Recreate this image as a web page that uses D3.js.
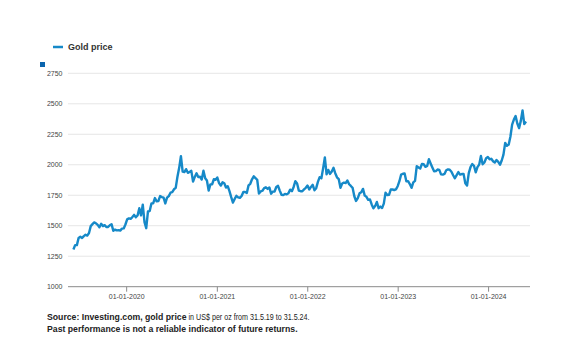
<!DOCTYPE html>
<html>
<head>
<meta charset="utf-8">
<script src="https://cdn.jsdelivr.net/npm/d3@7"></script>
<style>
  html, body { margin: 0; padding: 0; background: #fff; }
  svg { display: block; font-family: "Liberation Sans", Arial, sans-serif; }
</style>
</head>
<body>
<svg id="chart" width="575" height="342"></svg>
<script>
// Weekly gold price (US$ per oz), Fridays from 31 May 2019 to 31 May 2024
const startDate = "2019-05-31";
const prices2019 = [1305, 1341, 1341, 1399, 1409, 1399, 1415, 1426, 1419, 1440, 1497, 1513, 1527, 1520,
  1507, 1488, 1516, 1497, 1505, 1489, 1490, 1504, 1513, 1459, 1468, 1462, 1464, 1460, 1476, 1478, 1510];
const prices2020 = [1552, 1560, 1557, 1571, 1589, 1570, 1584, 1643, 1585, 1673, 1530, 1480, 1617,
  1620, 1683, 1683, 1727, 1700, 1703, 1743, 1735, 1730, 1683, 1730, 1743, 1771, 1775, 1799, 1810,
  1902, 1975, 2070, 1944, 1940, 1964, 1934, 1941, 1950, 1862, 1900, 1930, 1899, 1902, 1879, 1951,
  1889, 1871, 1788, 1839, 1840, 1881, 1877];
const prices2021 = [1895, 1850, 1829, 1856, 1848, 1813, 1824, 1784, 1734, 1690, 1720, 1745, 1733,
  1729, 1744, 1777, 1777, 1769, 1831, 1844, 1881, 1905, 1891, 1877, 1764, 1781, 1787, 1808, 1815,
  1802, 1814, 1763, 1780, 1781, 1818, 1827, 1788, 1754, 1751, 1761, 1757, 1767, 1796, 1783, 1818,
  1865, 1846, 1788, 1783, 1783, 1798, 1811, 1829];
const prices2022 = [1797, 1818, 1835, 1791, 1808, 1860, 1898, 1889, 1970, 2060, 1921, 1958, 1925,
  1945, 1975, 1931, 1897, 1883, 1811, 1846, 1853, 1850, 1871, 1840, 1826, 1811, 1742, 1703, 1727,
  1766, 1775, 1802, 1747, 1737, 1712, 1716, 1675, 1643, 1661, 1695, 1644, 1657, 1645, 1681, 1771,
  1751, 1754, 1797, 1797, 1793, 1798, 1824];
const prices2023 = [1865, 1920, 1926, 1928, 1865, 1865, 1842, 1811, 1856, 1868, 1989, 1978, 1969,
  2007, 2004, 1983, 1990, 2045, 2011, 1978, 1946, 1948, 1961, 1958, 1921, 1919, 1925, 1955, 1962,
  1959, 1943, 1914, 1889, 1915, 1940, 1919, 1924, 1925, 1849, 1830, 1932, 1981, 2006, 1992, 1938,
  1981, 2001, 2072, 2004, 2019, 2053, 2063];
const prices2024 = [2045, 2049, 2029, 2018, 2039, 2024, 2000, 2035, 2083, 2179, 2155, 2165, 2230,
  2329, 2370, 2400, 2338, 2300, 2360, 2445, 2334, 2355];

const yTicks = [1000, 1250, 1500, 1750, 2000, 2250, 2500, 2750];
const xTickDates = ["2020-01-01", "2021-01-01", "2022-01-01", "2023-01-01", "2024-01-01"];
const seriesName = "Gold price";

const prices = [].concat(prices2019, prices2020, prices2021, prices2022, prices2023, prices2024);
const parse = d3.utcParse("%Y-%m-%d");
const t0 = parse(startDate);
const data = prices.map((v, i) => ({ date: d3.utcDay.offset(t0, 7 * i), value: v }));

const svg = d3.select("#chart");
const blue = "#1689c8";

const plotLeft = 68, plotRight = 530;
const x = d3.scaleUtc()
  .domain([parse("2019-05-31"), parse("2024-05-31")])
  .range([73.4, 526]);
const y = d3.scaleLinear().domain([1000, 2750]).range([286.7, 73.3]);

// Horizontal gridlines and y labels
const yAxis = svg.append("g");
yAxis.selectAll("line.grid")
  .data(yTicks.filter(d => d !== 1000))
  .join("line")
  .attr("class", "grid")
  .attr("x1", plotLeft).attr("x2", plotRight)
  .attr("y1", d => y(d)).attr("y2", d => y(d))
  .attr("stroke", "#e6e6e6").attr("stroke-width", 1);
yAxis.selectAll("text")
  .data(yTicks)
  .join("text")
  .attr("x", 62.5)
  .attr("y", d => y(d))
  .attr("dy", "0.35em")
  .attr("text-anchor", "end")
  .attr("font-size", 7)
  .attr("fill", "#444")
  .text(d => d);

// Baseline and date ticks
svg.append("line")
  .attr("x1", plotLeft).attr("x2", plotRight)
  .attr("y1", y(1000)).attr("y2", y(1000))
  .attr("stroke", "#8a8a8a").attr("stroke-width", 1);
const xg = svg.append("g");
const xt = xg.selectAll("g")
  .data(xTickDates.map(parse))
  .join("g")
  .attr("transform", d => `translate(${x(d)},0)`);
xt.append("line")
  .attr("y1", y(1000)).attr("y2", y(1000) + 5)
  .attr("stroke", "#8a8a8a");
xt.append("text")
  .attr("y", 298.5)
  .attr("text-anchor", "middle")
  .attr("font-size", 7)
  .attr("fill", "#444")
  .text(d3.utcFormat("%d-%m-%Y"));

// Price line
const line = d3.line().x(d => x(d.date)).y(d => y(d.value));
svg.append("path")
  .datum(data)
  .attr("d", line)
  .attr("fill", "none")
  .attr("stroke", blue)
  .attr("stroke-width", 2.4)
  .attr("stroke-linejoin", "round");

// Legend
svg.append("line")
  .attr("x1", 53).attr("x2", 63).attr("y1", 47).attr("y2", 47)
  .attr("stroke", blue).attr("stroke-width", 2.5);
svg.append("text")
  .attr("x", 68).attr("y", 50.2)
  .attr("font-size", 9).attr("font-weight", "bold").attr("fill", "#333")
  .text(seriesName);

// Unit marker above the value axis
svg.append("rect")
  .attr("x", 40).attr("y", 62).attr("width", 5).attr("height", 5)
  .attr("fill", "#0b65ae");

// Footnotes: bold source, then a condensed regular remainder
const srcBold = svg.append("text")
  .attr("x", 47).attr("y", 320)
  .attr("font-size", 8.7).attr("font-weight", "bold").attr("fill", "#222")
  .text("Source: Investing.com, gold price");
const boldW = srcBold.node().getComputedTextLength();
svg.append("text")
  .attr("x", 47 + boldW + 2).attr("y", 320)
  .attr("font-size", 8.5).attr("fill", "#222")
  .attr("textLength", 121).attr("lengthAdjust", "spacingAndGlyphs")
  .text("in US$ per oz from 31.5.19 to 31.5.24.");
svg.append("text")
  .attr("x", 47).attr("y", 332)
  .attr("font-size", 8.7).attr("font-weight", "bold").attr("fill", "#222")
  .text("Past performance is not a reliable indicator of future returns.");
</script>
</body>
</html>
